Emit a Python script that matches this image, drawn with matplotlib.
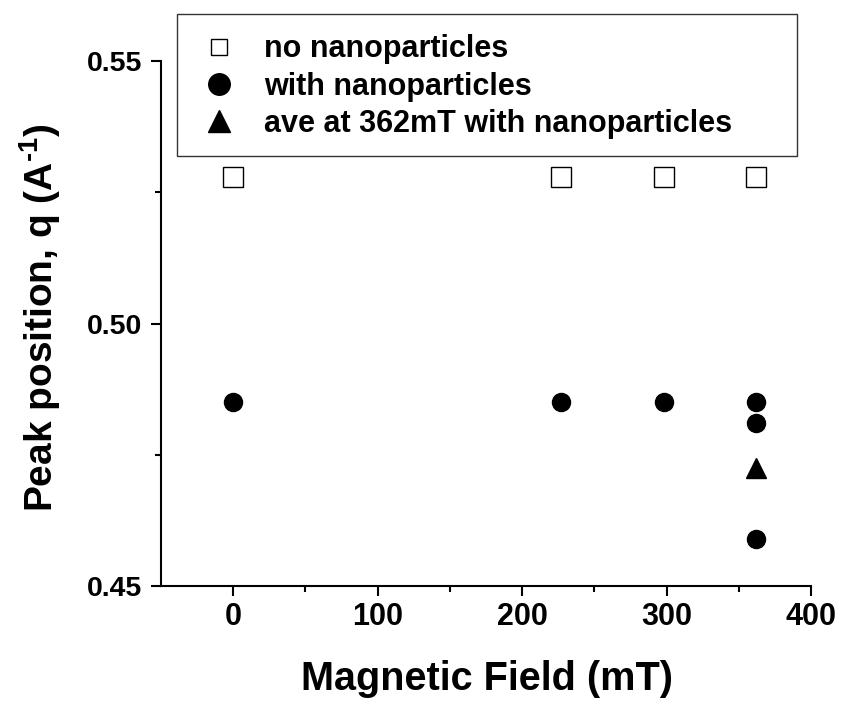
import matplotlib
matplotlib.use("Agg")
import matplotlib.pyplot as plt
from matplotlib.lines import Line2D
from matplotlib.patches import Rectangle
from matplotlib.ticker import FixedLocator

plt.rcParams["font.family"] = ["Liberation Sans", "DejaVu Sans"]
plt.rcParams["font.weight"] = "bold"
plt.rcParams["mathtext.fontset"] = "custom"
plt.rcParams["mathtext.rm"] = "Liberation Sans:bold"
plt.rcParams["mathtext.bf"] = "Liberation Sans:bold"
plt.rcParams["mathtext.it"] = "Liberation Sans:bold"

# Peak positions of the scattering peak versus applied field
field_no_np = [0, 227, 298, 362]
q_no_np = [0.528, 0.528, 0.528, 0.528]

field_with_np = [0, 227, 298, 362, 362, 362]
q_with_np = [0.485, 0.485, 0.485, 0.485, 0.481, 0.459]

field_ave = [362]
q_ave = [0.4725]

series_labels = ["no nanoparticles", "with nanoparticles",
                 "ave at 362mT with nanoparticles"]

x_ticks = [0, 100, 200, 300, 400]
x_tick_labels = ["0", "100", "200", "300", "400"]
x_minor = [50, 150, 250, 350]
y_ticks = [0.45, 0.50, 0.55]
y_tick_labels = ["0.45", "0.50", "0.55"]
y_minor = [0.475, 0.525]

W, H = 844, 702
fig = plt.figure(figsize=(W / 100, H / 100), dpi=100)
ax = fig.add_axes([160.75 / W, 1 - 586 / H, (811 - 160.75) / W, (586 - 61) / H])

ax.plot(field_no_np, q_no_np, linestyle="none", marker="s", markersize=15,
        markerfacecolor="white", markeredgecolor="black", markeredgewidth=1.0,
        clip_on=False)
ax.plot(field_with_np, q_with_np, linestyle="none", marker="o", markersize=13,
        markerfacecolor="black", markeredgecolor="black", clip_on=False)
ax.plot(field_ave, q_ave, linestyle="none", marker="^", markersize=14.5,
        markerfacecolor="black", markeredgecolor="black", clip_on=False)

ax.set_xlim(-50, 400)
ax.set_ylim(0.45, 0.55)

for side in ("top", "right"):
    ax.spines[side].set_visible(False)
for side in ("left", "bottom"):
    ax.spines[side].set_linewidth(1.5)

ax.set_xticks(x_ticks)
ax.set_xticklabels(x_tick_labels)
ax.xaxis.set_minor_locator(FixedLocator(x_minor))
ax.set_yticks(y_ticks)
ax.set_yticklabels(y_tick_labels)
ax.yaxis.set_minor_locator(FixedLocator(y_minor))

ax.tick_params(which="major", direction="out", length=7.5, width=1.5)
ax.tick_params(which="minor", direction="out", length=4.5, width=1.5)
ax.tick_params(axis="x", which="major", labelsize=22, pad=4)
ax.tick_params(axis="y", which="major", labelsize=20.5, pad=6)
for lab in ax.get_xticklabels() + ax.get_yticklabels():
    lab.set_fontweight("bold")

fig.text(487.5 / W, 1 - 690 / H, "Magnetic Field (mT)", fontsize=28.5,
         fontweight="bold", ha="center", va="baseline")
fig.text(53 / W, 1 - 317.5 / H, r"Peak position, q (A$^{\text{-1}}$)",
         fontsize=28, fontweight="bold", ha="center", va="baseline",
         rotation=90, rotation_mode="anchor")

# legend frame and entries
frame = Rectangle((177 / W, 1 - 156 / H), (797 - 177) / W, (156 - 14) / H,
                  transform=fig.transFigure, facecolor="white",
                  edgecolor="#333333", linewidth=1.0, zorder=5)
fig.patches.append(frame)
handles = [
    Line2D([], [], linestyle="none", marker="s", markersize=11.5,
           markerfacecolor="white", markeredgecolor="black", markeredgewidth=1.0),
    Line2D([], [], linestyle="none", marker="o", markersize=15.5,
           markerfacecolor="black", markeredgecolor="black"),
    Line2D([], [], linestyle="none", marker="^", markersize=16,
           markerfacecolor="black", markeredgecolor="black"),
]
leg = fig.legend(handles, series_labels, loc="upper left",
                 bbox_to_anchor=(203.7 / W, 1 - 34.5 / H),
                 bbox_transform=fig.transFigure, frameon=False,
                 prop={"size": 22, "weight": "bold"}, borderpad=0,
                 handlelength=1.0, handletextpad=0.97, labelspacing=0.235,
                 borderaxespad=0)
leg.set_zorder(6)

fig.savefig("out.png", dpi=100)
